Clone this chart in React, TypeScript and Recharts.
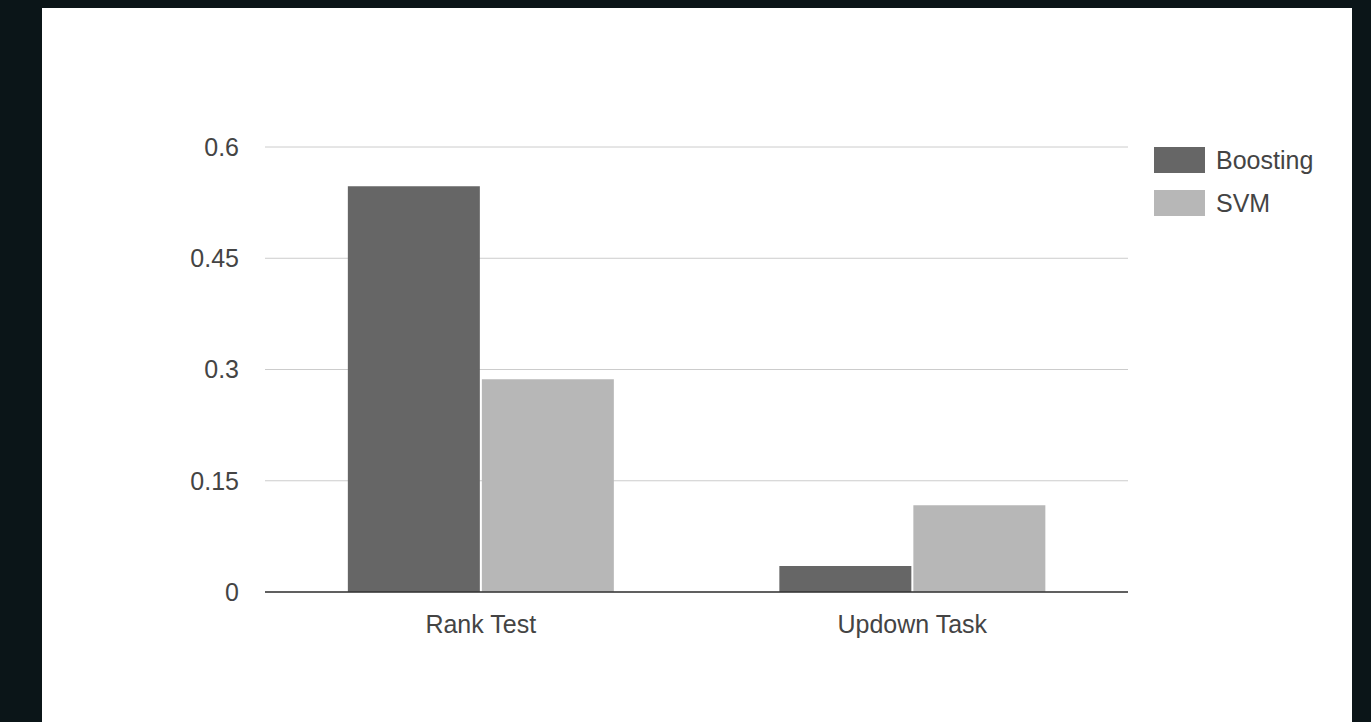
import { BarChart, Bar, XAxis, YAxis, CartesianGrid } from 'recharts';

const categories = ['Rank Test', 'Updown Task'];
const boosting = [0.547, 0.035];
const svm = [0.287, 0.117];
const yTicks = [0, 0.15, 0.3, 0.45, 0.6];

const seriesNames = ['Boosting', 'SVM'];
const seriesColors = ['#666666', '#b7b7b7'];

const data = categories.map((name, i) => ({
  name,
  Boosting: boosting[i],
  SVM: svm[i],
}));

const font = '"Liberation Sans", Arial, sans-serif';
const textColor = '#444444';

export default function App() {
  return (
    <div
      style={{
        position: 'absolute',
        left: 0,
        top: 0,
        width: 1371,
        height: 722,
        background: '#0b1518',
        overflow: 'hidden',
      }}
    >
      <div
        style={{
          position: 'absolute',
          left: 42,
          top: 8,
          width: 1310,
          height: 714,
          background: '#ffffff',
        }}
      >
        <BarChart
          width={1310}
          height={714}
          data={data}
          margin={{ top: 139, right: 224, bottom: 90, left: 163 }}
          barCategoryGap="19.2%"
          barGap={2}
        >
          <CartesianGrid vertical={false} stroke="#cccccc" />
          <XAxis
            dataKey="name"
            height={40}
            axisLine={{ stroke: '#333333', strokeWidth: 1.5 }}
            tickLine={false}
            tickSize={0}
            tickMargin={23}
            tick={{ fill: textColor, fontSize: 25, fontFamily: font }}
          />
          <YAxis
            width={60}
            domain={[0, 0.6]}
            ticks={yTicks}
            axisLine={false}
            tickLine={false}
            tickSize={0}
            tickMargin={26}
            tick={{ fill: textColor, fontSize: 25, fontFamily: font }}
          />
          {seriesNames.map((s, i) => (
            <Bar key={s} dataKey={s} fill={seriesColors[i]} isAnimationActive={false} />
          ))}
        </BarChart>
        <div style={{ position: 'absolute', left: 1112, top: 139, fontFamily: font }}>
          {seriesNames.map((s, i) => (
            <div
              key={s}
              style={{ display: 'flex', alignItems: 'center', height: 26, marginBottom: 17 }}
            >
              <div style={{ width: 51, height: 26, background: seriesColors[i] }} />
              <span style={{ marginLeft: 11, fontSize: 25, color: textColor }}>{s}</span>
            </div>
          ))}
        </div>
      </div>
    </div>
  );
}
